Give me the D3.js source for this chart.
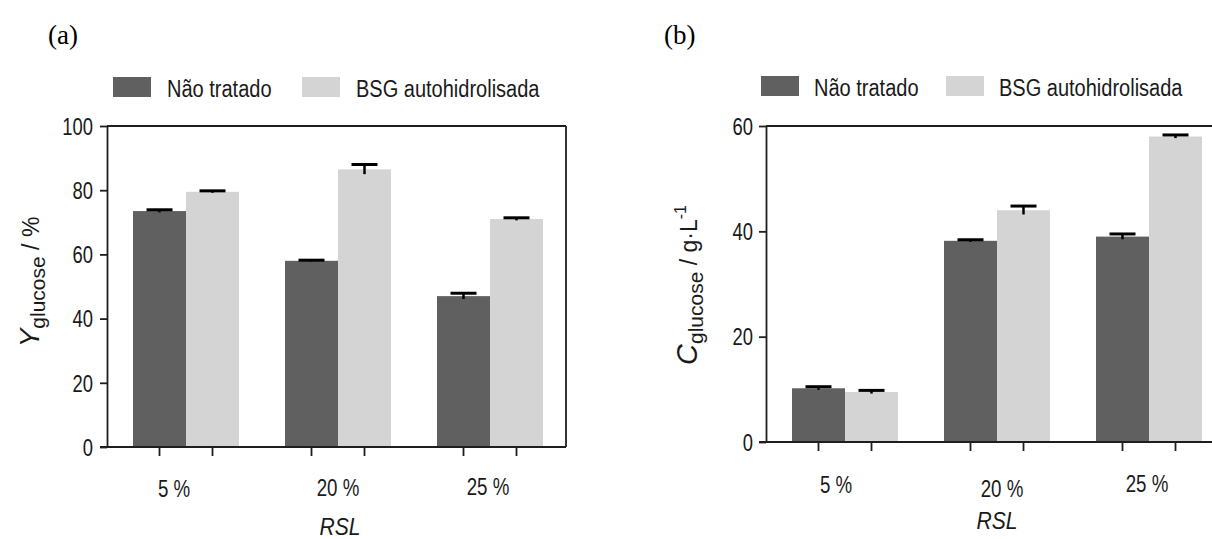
<!DOCTYPE html>
<html><head><meta charset="utf-8">
<script src="https://cdn.jsdelivr.net/npm/d3@7"></script>
<style>
body{margin:0;background:#fff;}
text{font-family:'Liberation Sans',Arial,sans-serif;fill:#1a1a1a;}
.serif{font-family:'Liberation Serif','Times New Roman',serif;fill:#000;}
</style></head><body>
<svg id="c" width="1212" height="539"></svg>
<script>
const categories = ["5 %", "20 %", "25 %"];
const seriesNames = ["Não tratado", "BSG autohidrolisada"];
const colors = ["#606060", "#d4d4d4"];
// panel (a): Y glucose (%)
const yieldNaoTratado = [73.5, 58.0, 47.0];
const yieldBSG = [79.5, 86.5, 71.0];
const yieldErrNao = [0.4, 0.2, 0.9];
const yieldErrBSG = [0.3, 1.5, 0.4];
// panel (b): C glucose (g/L)
const concNaoTratado = [10.2, 38.2, 39.0];
const concBSG = [9.5, 44.0, 58.0];
const concErrNao = [0.3, 0.2, 0.5];
const concErrBSG = [0.3, 0.8, 0.3];
const ticksA = [0, 20, 40, 60, 80, 100];
const ticksB = [0, 20, 40, 60];

const svg = d3.select("#c");
const AX = "#1e1e1e";

function stxt(g, x, y, s, size, sx, anchor, italic){
  return g.append("text").attr("transform",`translate(${x},${y}) scale(${sx},1)`)
    .attr("text-anchor", anchor||"start").style("font-size", size+"px")
    .style("font-style", italic ? "italic" : "normal").text(s);
}

function panel(cfg){
  const g = svg.append("g");
  const x = d3.scalePoint().domain(categories).range([cfg.left+3, cfg.left+3+456]).padding(0.5);
  const xs = d3.scaleBand().domain(seriesNames).range([-53, 53]);
  const y = d3.scaleLinear().domain([0, cfg.max]).range([cfg.bottom, cfg.top]);
  const data = [];
  categories.forEach((c,i)=>{
    data.push({c, s:seriesNames[0], v:cfg.v0[i], e:cfg.e0[i], k:0});
    data.push({c, s:seriesNames[1], v:cfg.v1[i], e:cfg.e1[i], k:1});
  });
  const cx = d => x(d.c)+xs(d.s)+xs.bandwidth()/2;
  g.selectAll("rect.bar").data(data).enter().append("rect")
    .attr("x", d=>x(d.c)+xs(d.s)).attr("width", xs.bandwidth())
    .attr("y", d=>y(d.v)).attr("height", d=>y(0)-y(d.v))
    .attr("fill", d=>colors[d.k]);
  g.selectAll("line.stem").data(data).enter().append("line")
    .attr("x1", cx).attr("x2", cx)
    .attr("y1", d=>y(d.v-d.e)).attr("y2", d=>y(d.v+d.e))
    .attr("stroke","#000").attr("stroke-width",2.5);
  g.selectAll("line.cap").data(data).enter().append("line")
    .attr("x1", d=>cx(d)-13).attr("x2", d=>cx(d)+13)
    .attr("y1", d=>y(d.v+d.e)).attr("y2", d=>y(d.v+d.e))
    .attr("stroke","#000").attr("stroke-width",3);
  // frame top/right
  g.append("line").attr("x1",cfg.left).attr("x2",cfg.right).attr("y1",cfg.top).attr("y2",cfg.top).attr("stroke",AX).attr("stroke-width",1.8);
  g.append("line").attr("x1",cfg.right).attr("x2",cfg.right).attr("y1",cfg.top).attr("y2",cfg.bottom).attr("stroke",AX).attr("stroke-width",1.8);
  // y axis
  const ya = g.append("g").attr("transform",`translate(${cfg.left},0)`)
    .call(d3.axisLeft(y).tickValues(cfg.ticks).tickSize(7).tickPadding(cfg.tickPad).tickSizeOuter(0));
  ya.select(".domain").attr("stroke",AX).attr("stroke-width",1.8);
  ya.selectAll(".tick line").attr("stroke",AX).attr("stroke-width",1.8);
  ya.selectAll(".tick text").style("font-size","23px").attr("fill","#1a1a1a")
    .style("font-family","'Liberation Sans',Arial,sans-serif")
    .attr("x", -(7+cfg.tickPad)/0.8).attr("dy","0.36em").attr("transform","scale(0.8,1)");
  // x axis line
  g.append("line").attr("x1",cfg.left-7).attr("x2",cfg.right).attr("y1",cfg.bottom).attr("y2",cfg.bottom).attr("stroke",AX).attr("stroke-width",1.8);
  g.selectAll("line.xt").data(data).enter().append("line")
    .attr("x1", cx).attr("x2", cx)
    .attr("y1", cfg.bottom).attr("y2", cfg.bottom+9).attr("stroke",AX).attr("stroke-width",1.8);
  // category labels
  categories.forEach((c,i)=>{
    stxt(g, x(c)+cfg.catNudge[i], cfg.catY[i], c, 24, 0.78, "middle");
  });
  stxt(g, cfg.rslX, cfg.rslY, "RSL", 24, 0.88, "middle", true);
  // legend
  seriesNames.forEach((s,i)=>{
    g.append("rect").attr("x",cfg.legX[i]).attr("y",cfg.legY).attr("width",38).attr("height",20).attr("fill",colors[i]);
    stxt(g, cfg.legTX[i], cfg.legY+20, s, 23, 0.87, "start");
  });
  g.append("text").attr("class","serif").attr("x",cfg.letX).attr("y",44).style("font-size","27px").text(cfg.letter);
  const yl = g.append("text").attr("transform",`translate(${cfg.ylX},${cfg.ylY}) rotate(-90)`).attr("text-anchor","middle");
  cfg.ylab(yl);
}

panel({left:107,right:566,top:126,bottom:447,max:100,ticks:ticksA,tickPad:7,
  v0:yieldNaoTratado,v1:yieldBSG,e0:yieldErrNao,e1:yieldErrBSG,
  catNudge:[-12,0,-2],catY:[497,496,495],rslX:340,rslY:535,
  legY:77,legX:[113,302],legTX:[167,356],letX:48,letter:"(a)",
  ylX:39,ylY:282,
  ylab:t=>{
    t.append("tspan").style("font-size","28px").style("font-style","italic").text("Y");
    t.append("tspan").attr("dy",6).style("font-size","21px").text("glucose");
    t.append("tspan").attr("dy",-6).style("font-size","23px").text("  /  %");
  }});

panel({left:766,right:1217,top:126,bottom:442,max:60,ticks:ticksB,tickPad:6,
  v0:concNaoTratado,v1:concBSG,e0:concErrNao,e1:concErrBSG,
  catNudge:[-9,5,-2],catY:[493,497,492],rslX:997,rslY:529,
  legY:76,legX:[761,946],legTX:[814,999],letX:664,letter:"(b)",
  ylX:697,ylY:285,
  ylab:t=>{
    t.append("tspan").style("font-size","29px").style("font-style","italic").text("C");
    t.append("tspan").attr("dy",6).style("font-size","21px").text("glucose");
    t.append("tspan").attr("dy",-6).style("font-size","23px").text(" / g·L");
    t.append("tspan").attr("dy",-11).style("font-size","16px").text("-1");
  }});
</script></body></html>
